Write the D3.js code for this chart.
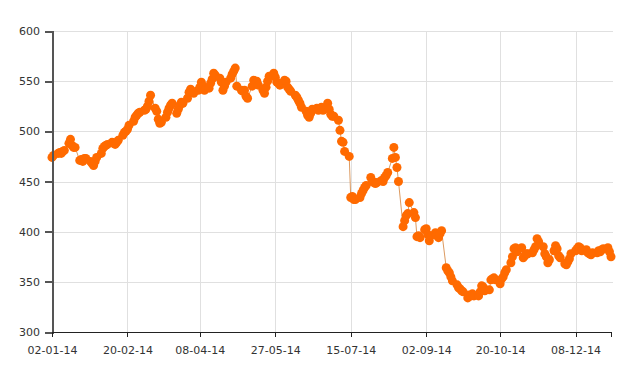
<!doctype html>
<head>
    <meta charset="utf-8">
    <title>Daily price 2014</title>
    <script src="https://d3js.org/d3.v7.min.js"></script>
    <style>
        body {margin:0; background:#fff;}
        svg {width:620px; height:375px; display:block;}
        .grid line {stroke:#e0e0e0; shape-rendering:crispEdges;}
        .axis text {font-family:"DejaVu Sans", sans-serif; font-size:11px; fill:#333;}
        .axis path, .axis line {shape-rendering:crispEdges;}
        .y.axis path, .y.axis line {stroke:#555; stroke-width:2px;}
        .x.axis path, .x.axis line {stroke:#222;}
        .price-line {fill:none; stroke:#dc9a60; stroke-width:1;}
        circle {fill:#ff6a00;}
    </style>
</head>
<body>
    <script>
        "use strict";
        // one value per trading day (weekdays), 2 Jan 2014 - 31 Dec 2014, grouped by week
        var firstDay = "2014-01-02";
        var lastDay = "2014-12-31";
        var values = [
            474, 476,
            478, 479, 478, 480, 481,
            488, 492, 486, 484, 484,
            471, 472, 470, 473, 473,
            470, 468, 466, 470, 474,
            478, 483, 485, 486, 487,
            489, 488, 487, 489, 491,
            496, 499, 500, 502, 506,
            510, 514, 516, 518, 519,
            521, 522, 525, 530, 536,
            523, 520, 512, 508, 509,
            514, 519, 523, 526, 528,
            518, 522, 526, 529, 528,
            533, 539, 542, 540, 538,
            541, 544, 549, 545, 541,
            543, 548, 552, 558, 556,
            553, 549, 541, 545, 549,
            553, 557, 560, 563, 545,
            541, 540, 541, 535, 533,
            545, 551, 548, 550, 546,
            541, 538, 544, 550, 555,
            558, 554, 549, 548, 546,
            551, 550, 544, 542, 540,
            536, 534, 531, 528, 524,
            520, 516, 514, 518, 522,
            523, 521, 522, 524, 521,
            528, 522, 517, 515, 515,
            511, 501, 490, 489, 480,
            475, 434, 435, 432, 432,
            434, 438, 441, 444, 446,
            454, 450, 449, 448, 449,
            451, 450, 454, 456, 459,
            473, 484, 474, 464, 450,
            405, 411, 416, 418, 429,
            419, 414, 395, 396, 394,
            402, 403, 397, 391, 396,
            399, 396, 394, 398, 401,
            364, 361, 359, 355, 351,
            347, 344, 343, 341, 340,
            334, 337, 336, 338, 336,
            336, 340, 346, 345, 341,
            342, 352, 353, 354, 352,
            348, 353, 355, 359, 362,
            369, 375, 383, 384, 380,
            384, 374, 376, 378, 378,
            379, 382, 385, 393, 390,
            385, 378, 375, 369, 372,
            381, 386, 383, 376, 374,
            368, 367, 370, 373, 378,
            381, 383, 385, 384, 381,
            382, 379, 378, 377, 379,
            379, 381, 380, 382, 383,
            384, 380, 375
        ];
        var xTickLabels = ["02-01-14", "20-02-14", "08-04-14", "27-05-14", "15-07-14", "02-09-14", "20-10-14", "08-12-14"];
        var yTicks = [300, 350, 400, 450, 500, 550, 600];

        var parseIso = d3.timeParse("%Y-%m-%d");
        var parseTick = d3.timeParse("%d-%m-%y");
        var start = parseIso(firstDay), end = parseIso(lastDay);

        // trading days = weekdays of the period
        var days = d3.timeDay.range(start, d3.timeDay.offset(end, 1))
            .filter(function(d) { return d.getDay() !== 0 && d.getDay() !== 6; });
        var data = days.map(function(d, i) { return { date: d, value: values[i] }; })
            .filter(function(d) { return d.value !== undefined; });

        var plotLeft = 52, plotRight = 611, plotTop = 31, plotBottom = 332;

        var x = d3.scaleTime().domain([start, end]).range([plotLeft, plotRight]);
        var y = d3.scaleLinear().domain([300, 600]).range([plotBottom, plotTop]);

        var svg = d3.select("body").append("svg");

        var grid = svg.append("g").attr("class", "grid");
        grid.selectAll("line.h")
            .data(yTicks.slice(1))
            .enter().append("line")
            .attr("class", "h")
            .attr("x1", plotLeft).attr("x2", plotRight + 2)
            .attr("y1", function(d) { return Math.round(y(d)) + 0.5; })
            .attr("y2", function(d) { return Math.round(y(d)) + 0.5; });
        grid.selectAll("line.v")
            .data(xTickLabels.slice(1).map(parseTick))
            .enter().append("line")
            .attr("class", "v")
            .attr("x1", function(d) { return Math.round(x(d)) + 0.5; })
            .attr("x2", function(d) { return Math.round(x(d)) + 0.5; })
            .attr("y1", plotTop).attr("y2", plotBottom);

        var line = d3.line()
            .x(function(d) { return x(d.date); })
            .y(function(d) { return y(d.value); });

        svg.append("path")
            .datum(data)
            .attr("class", "price-line")
            .attr("d", line);

        svg.append("g").selectAll("circle")
            .data(data)
            .enter().append("circle")
            .attr("r", 4.5)
            .attr("cx", function(d) { return x(d.date); })
            .attr("cy", function(d) { return y(d.value); });

        svg.append("g")
            .attr("class", "y axis")
            .attr("transform", "translate(" + plotLeft + ",0)")
            .call(d3.axisLeft(y).tickValues(yTicks).tickSize(7).tickPadding(5));

        svg.append("g")
            .attr("class", "x axis")
            .attr("transform", "translate(0," + plotBottom + ")")
            .call(d3.axisBottom(x)
                .tickValues(xTickLabels.map(parseTick))
                .tickFormat(d3.timeFormat("%d-%m-%y"))
                .tickSize(5).tickPadding(9));
    </script>
</body>
</html>
